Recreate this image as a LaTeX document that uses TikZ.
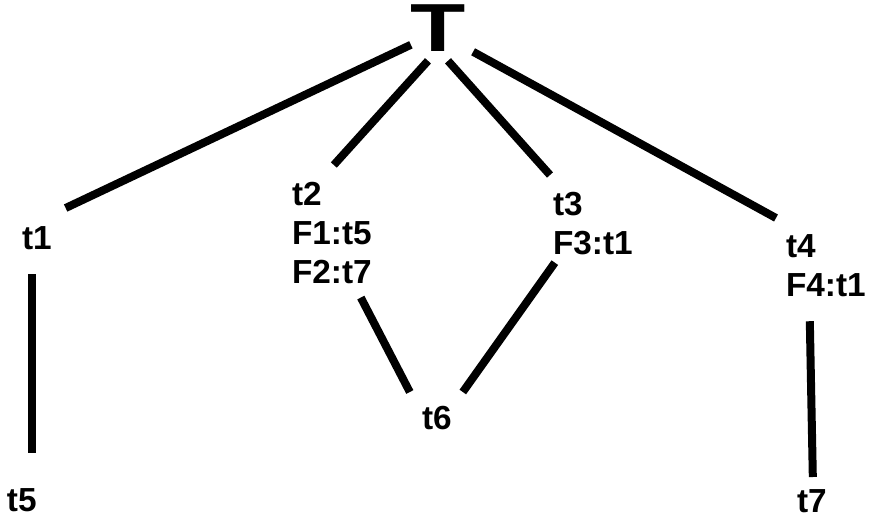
\documentclass[tikz,border=0pt]{standalone}
\usepackage{fontspec}
\setmainfont{Liberation Sans}

\begin{document}
\begin{tikzpicture}[x=0.75pt, y=-0.75pt, font=\fontsize{25pt}{29.25pt}\selectfont\bfseries, every node/.style={inner sep=0pt, outer sep=0pt, anchor=north west, align=left}, edge/.style={line width=6pt}]
        \useasboundingbox (0, 0) rectangle (869, 519);

        \node[anchor=north, font=\fontsize{51pt}{51pt}\selectfont\bfseries] (root) at (438, 5) {\scalebox{1.33}[1]{T}};

        \node (t1) at (22, 227) {t1};
        \node (t2) at (292, 182) {t2\\F1:t5\\F2:t7};
        \node (t3) at (553, 192) {t3\\F3:t1};
        \node (t4) at (786, 235) {t4\\F4:t1};
        \node (t5) at (7, 489) {t5};
        \node (t6) at (422, 406) {t6};
        \node (t7) at (797, 490) {t7};

        \draw[edge] ([shift={(0.5,-7)}]root.south west) -- ([shift={(14,-19)}]t1.north east);
        \draw[edge] ([shift={(-10,9)}]root.south) -- ([shift={(2,-17)}]t2.north);
        \draw[edge] ([shift={(10,9)}]root.south) -- ([shift={(-3,-17)}]t3.north west);
        \draw[edge] ([shift={(7.5,0)}]root.south east) -- ([shift={(-10,-17)}]t4.north west);

        \draw[edge] ([shift={(-5,24)}]t1.south) -- ([shift={(10,-36)}]t5.north);
        \draw[edge] ([shift={(29,14)}]t2.south) -- ([shift={(-27,-14)}]t6.north);
        \draw[edge] ([shift={(-38,8)}]t3.south) -- ([shift={(26,-14)}]t6.north);
        \draw[edge] ([shift={(-16,24)}]t4.south) -- ([shift={(1,-13)}]t7.north);
    \end{tikzpicture}
\end{document}
